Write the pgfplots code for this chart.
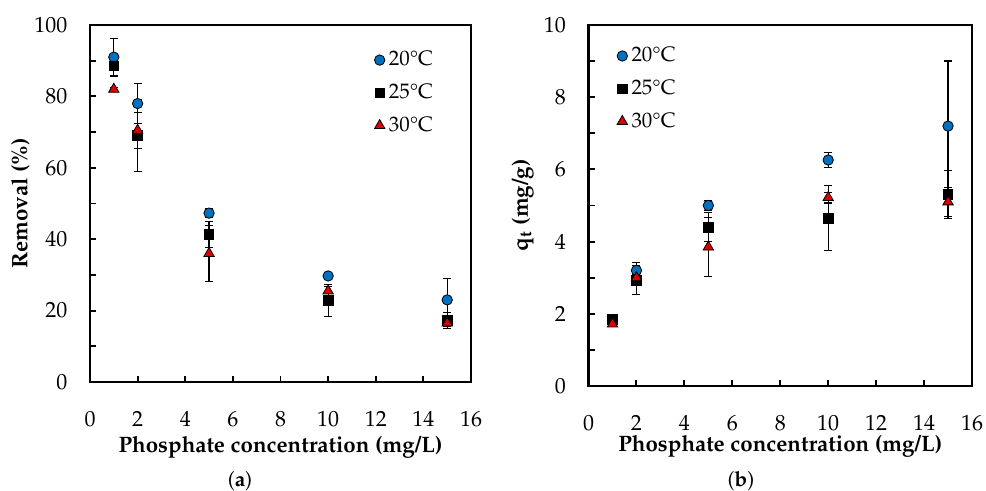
\documentclass[border=0pt,11pt]{standalone}
\usepackage[T1]{fontenc}
\usepackage{mathpazo}
\usepackage{pgfplots}
\usepackage{pgfplotstable}
\pgfplotsset{compat=1.18}
\definecolor{myblue}{RGB}{0,112,192}
\definecolor{myred}{RGB}{220,0,0}

\pgfplotstableread{
x y e
1 91 5.3
2 78 5.5
5 47.3 1.2
10 29.7 1.0
15 23 5.9
}\ra
\pgfplotstableread{
x y e
1 88.5 2.8
2 69 10
5 41.3 3.6
10 22.8 4.4
15 17.2 2.2
}\rb
\pgfplotstableread{
x y e
1 82 0.5
2 70.5 5
5 36 7.8
10 25.5 1.3
15 16.5 0.8
}\rc
\pgfplotstableread{
x y e
1 1.8 0.1
2 3.2 0.22
5 5.0 0.13
10 6.26 0.2
15 7.2 1.8
}\qa
\pgfplotstableread{
x y e
1 1.85 0.08
2 2.93 0.4
5 4.4 0.4
10 4.65 0.9
15 5.3 0.67
}\qb
\pgfplotstableread{
x y e
1 1.72 0.05
2 3.0 0.1
5 3.85 0.82
10 5.22 0.15
15 5.1 0.4
}\qc

\pgfplotsset{
  myaxis/.style={
    scale only axis,
    xmin=0, xmax=16, xtick={0,2,...,16},
    tick align=inside, xtick pos=left, ytick pos=left,
    axis line style={line width=1.3pt},
    major tick style={line width=1pt, black},
    minor tick style={line width=1pt, black},
    major tick length=3bp, minor tick length=3bp,
    minor y tick num=1,
    tick label style={font=\fontsize{11}{13}\selectfont},
    xticklabel style={yshift=-11bp},
    yticklabel style={xshift=-7.5bp},
    legend style={draw=none, fill=none, row sep=3.5bp, font=\fontsize{10.5}{12}\selectfont,
      /tikz/every even column/.append style={column sep=2bp}},
    legend cell align=left,
    label style={font=\fontsize{11.2}{13}\selectfont\bfseries},
    error bars/error bar style={black, line width=0.6pt},
    error bars/error mark options={rotate=90, black, mark size=2bp, line width=0.6pt},
  },
  sa/.style={only marks, mark=*, mark size=2.6bp, mark options={fill=myblue, draw=black, line width=0.4pt}},
  sb/.style={only marks, mark=square*, mark size=2.4bp, mark options={fill=black, draw=black}},
  sc/.style={only marks, mark=triangle*, mark size=3bp, mark options={fill=myred, draw=black, line width=0.4pt}},
}

\begin{document}
\begin{tikzpicture}
\useasboundingbox (0,0) rectangle (493bp,245.5bp);
\begin{axis}[myaxis,
  at={(45bp,54.5bp)}, anchor=south west,
  width=190.5bp, height=178.5bp,
  ymin=0, ymax=100, ytick={0,20,...,100},
  xlabel={Phosphate concentration (mg/L)},
  ylabel={Removal (\%)},
  xlabel style={at={(axis description cs:0.5,-0.182)}, anchor=center},
  ylabel style={at={(axis description cs:-0.182,0.5)}, anchor=center},
  legend style={at={(axis description cs:0.73,0.95)}, anchor=north west},
]
\addplot+[sa, error bars/.cd, y dir=both, y explicit] table[x=x, y=y, y error=e]{\ra};
\addlegendentry{20\textdegree C}
\addplot+[sb, error bars/.cd, y dir=both, y explicit] table[x=x, y=y, y error=e]{\rb};
\addlegendentry{25\textdegree C}
\addplot+[sc, error bars/.cd, y dir=both, y explicit] table[x=x, y=y, y error=e]{\rc};
\addlegendentry{30\textdegree C}
\end{axis}
\begin{axis}[myaxis,
  at={(294.25bp,52.5bp)}, anchor=south west,
  width=191.75bp, height=180.5bp,
  ymin=0, ymax=10, ytick={0,2,...,10},
  xlabel={Phosphate concentration (mg/L)},
  ylabel={q$_{\mathbf{t}}$ (mg/g)},
  xlabel style={at={(axis description cs:0.5,-0.168)}, anchor=center},
  ylabel style={at={(axis description cs:-0.172,0.5)}, anchor=center},
  legend style={at={(axis description cs:0.058,0.962)}, anchor=north west},
]
\addplot+[sa, error bars/.cd, y dir=both, y explicit] table[x=x, y=y, y error=e]{\qa};
\addlegendentry{20\textdegree C}
\addplot+[sb, error bars/.cd, y dir=both, y explicit] table[x=x, y=y, y error=e]{\qb};
\addlegendentry{25\textdegree C}
\addplot+[sc, error bars/.cd, y dir=both, y explicit] table[x=x, y=y, y error=e]{\qc};
\addlegendentry{30\textdegree C}
\end{axis}
\node[font=\fontsize{10.5}{12}\selectfont] at (120bp,5bp) {(\textbf{a})};
\node[font=\fontsize{10.5}{12}\selectfont] at (370.5bp,5bp) {(\textbf{b})};
\end{tikzpicture}
\end{document}
